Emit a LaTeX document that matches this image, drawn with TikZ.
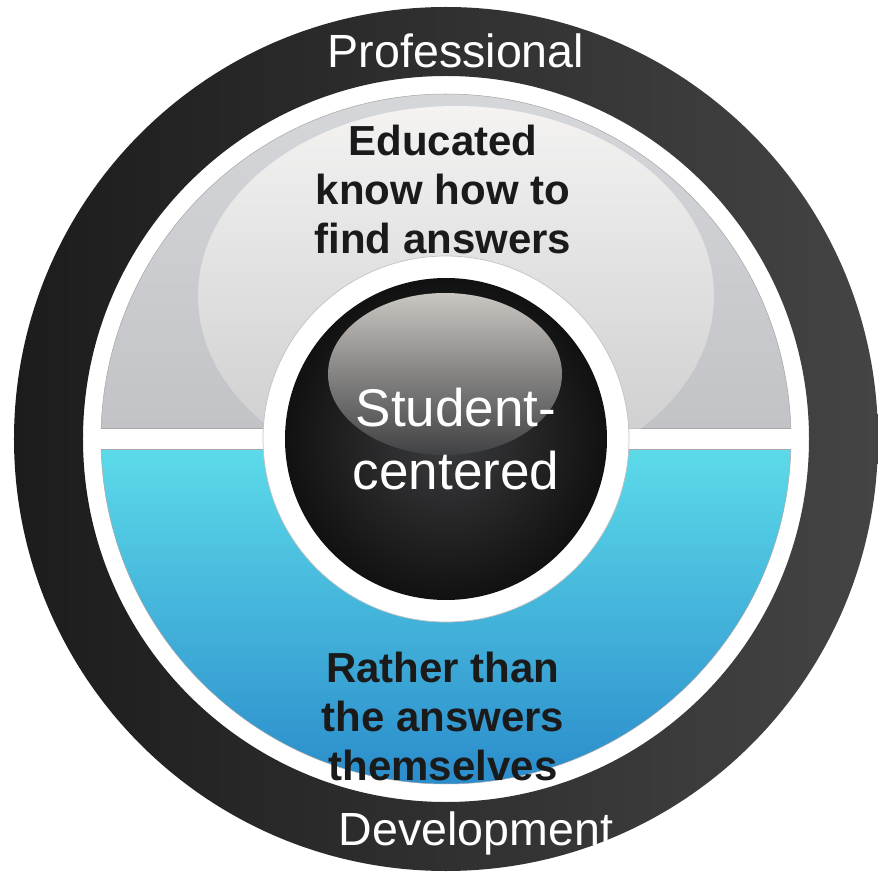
\documentclass[tikz,border=0pt]{standalone}
\usepackage{fontspec}
\setmainfont{Liberation Sans}
\usetikzlibrary{calc}

\definecolor{ringdark}{HTML}{1C1C1C}
\definecolor{ringlight}{HTML}{444444}
\definecolor{greytop}{HTML}{D6D7DA}
\definecolor{greybot}{HTML}{C2C3C6}
\definecolor{glowtop}{HTML}{F4F3F2}
\definecolor{glowbot}{HTML}{CACACC}
\definecolor{cyantop}{HTML}{5CDAE9}
\definecolor{cyanbot}{HTML}{2A8BCB}
\definecolor{ballmid}{HTML}{3B3C3E}
\definecolor{ballrim}{HTML}{111111}
\definecolor{shinetop}{HTML}{CAC6C2}
\definecolor{shinebot}{HTML}{404143}
\definecolor{edgegrey}{HTML}{A8A8A8}
\definecolor{inkdark}{HTML}{1A1A1A}

\begin{document}
\begin{tikzpicture}[
  ringtext/.style={text=white, font=\fontsize{26.5}{30}\selectfont, anchor=base, inner sep=0pt},
  halftext/.style={text=inkdark, font=\fontsize{23.9}{27.9}\selectfont\bfseries, align=center, anchor=north, inner sep=0pt},
  hubtext/.style={text=white, font=\fontsize{30.2}{35.8}\selectfont, align=center, anchor=north, inner sep=0pt}]
  \def\Ro{8.64}  % outer edge of the dark ring
  \def\Ri{7.26}  % inner edge of the dark ring
  \def\Rc{6.9}   % coloured halves
  \def\Rw{3.66}  % white hub
  \def\Rb{3.22}  % black ball
  \def\a{1.744}  % half gap of the divider, in degrees
  \useasboundingbox (-8.92,-8.8) rectangle (8.62,8.78);
  \coordinate (O) at (0,0);

  % dark outer ring
  \path[left color=ringdark, right color=ringlight, even odd rule]
    (O) circle (\Ro) (O) circle (\Ri);

  % upper half, grey with a soft glow
  \path[top color=greytop, bottom color=greybot, draw=edgegrey, line width=0.3pt]
    (\a:\Rc) arc[start angle=\a, end angle=180-\a, radius=\Rc] -- cycle;
  \begin{scope}
    \clip (\a:\Rc) arc[start angle=\a, end angle=180-\a, radius=\Rc] -- cycle;
    \path[top color=glowtop, bottom color=glowbot] (0.2,2.86) ellipse[x radius=5.16, y radius=3.8];
  \end{scope}

  % lower half, cyan to blue
  \path[top color=cyantop, bottom color=cyanbot, draw=edgegrey, line width=0.3pt]
    (-\a:\Rc) arc[start angle=-\a, end angle=-180+\a, radius=\Rc] -- cycle;

  % white hub and black ball
  \path[fill=white, draw=edgegrey!70, line width=0.4pt] (O) circle (\Rw);
  \path[inner color=ballmid, outer color=ballrim] (O) circle (\Rb);
  \path[top color=shinetop, bottom color=shinebot] (-0.02,1.3) ellipse[x radius=2.34, y radius=1.62];

  % labels
  \node[ringtext] (prof) at (0.2,7.42) {Professional};
  \node[ringtext] (dev) at (0.6,-8.12) {Development};
  \node[halftext] (upper) at (-0.06,6.28) {Educated\\know how to\\find answers};
  \node[halftext] (lower) at (-0.06,-4.26) {Rather than\\the answers\\themselves};
  \node[hubtext] (hub) at (0.2,1.02) {Student-\\centered};
\end{tikzpicture}
\end{document}
